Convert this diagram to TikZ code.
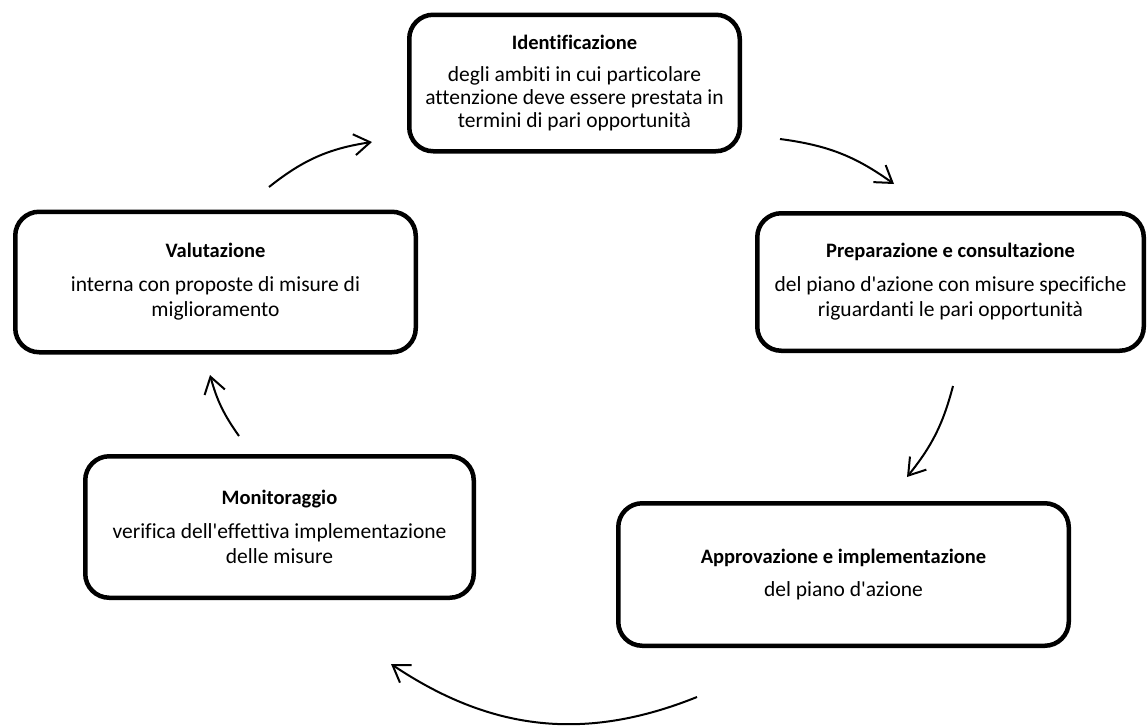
\documentclass[tikz,border=0pt]{standalone}
\usepackage{fontspec}
\newfontfamily\carlito{Carlito}[Ligatures=NoCommon]
\usetikzlibrary{arrows.meta}
\begin{document}
\begin{tikzpicture}[x=1pt,y=-1pt,
  stagebox/.style={draw=black, line width=4.5pt, rounded corners=24pt,
    align=center, inner sep=0pt, fill=none,
    font=\carlito\fontsize{21.5}{25.5}\selectfont},
  cyclearrow/.style={line width=2pt, -{Straight Barb[length=16pt,width=21pt,line width=2pt]}}]
\useasboundingbox (0,0) rectangle (1147,726);

\node[stagebox, minimum width=330.5pt, minimum height=136.5pt] (ident) at (574.5,83)
  {{\fontsize{20.5}{24}\selectfont\bfseries Identificazione}\\[7pt]degli ambiti in cui particolare\\[-2.5pt]attenzione deve essere prestata in\\[-2.5pt]termini di pari opportunità};
\node[stagebox, minimum width=386.5pt, minimum height=137.5pt] (prep) at (950.5,282)
  {{\fontsize{20.5}{24}\selectfont\bfseries Preparazione e consultazione}\\[8pt]del piano d'azione con misure specifiche\\riguardanti le pari opportunità};
\node[stagebox, minimum width=450.5pt, minimum height=142.5pt] (appr) at (843.5,574.5)
  {{\fontsize{20.5}{24}\selectfont\bfseries Approvazione e implementazione}\\[8pt]del piano d'azione};
\node[stagebox, minimum width=388.5pt, minimum height=141.5pt] (monit) at (279.5,527)
  {{\fontsize{20.5}{24}\selectfont\bfseries Monitoraggio}\\[8pt]verifica dell'effettiva implementazione\\delle misure};
\node[stagebox, minimum width=400.5pt, minimum height=140.5pt] (valut) at (215.5,282)
  {{\fontsize{20.5}{24}\selectfont\bfseries Valutazione}\\[8pt]interna con proposte di misure di\\miglioramento};

\coordinate (a1s) at (269,187); \coordinate (a1e) at (372,142);
\coordinate (a2s) at (780,139); \coordinate (a2e) at (894,184);
\coordinate (a3s) at (953,386); \coordinate (a3e) at (907,477);
\coordinate (a4s) at (697,697); \coordinate (a4e) at (391,664);
\coordinate (a5s) at (239,436); \coordinate (a5e) at (210,375);

\draw[cyclearrow] (a1s) .. controls (303,160) and (328.5,148.6) .. (a1e);
\draw[cyclearrow] (a2s) .. controls (827.6,145.3) and (855,156) .. (a2e);
\draw[cyclearrow] (a3s) .. controls (942.8,424.7) and (932,445.8) .. (a3e);
\draw[cyclearrow] (a4s) .. controls (585,742) and (491,731) .. (a4e);
\draw[cyclearrow] (a5s) .. controls (223.7,414.5) and (217,400.5) .. (a5e);
\end{tikzpicture}
\end{document}
